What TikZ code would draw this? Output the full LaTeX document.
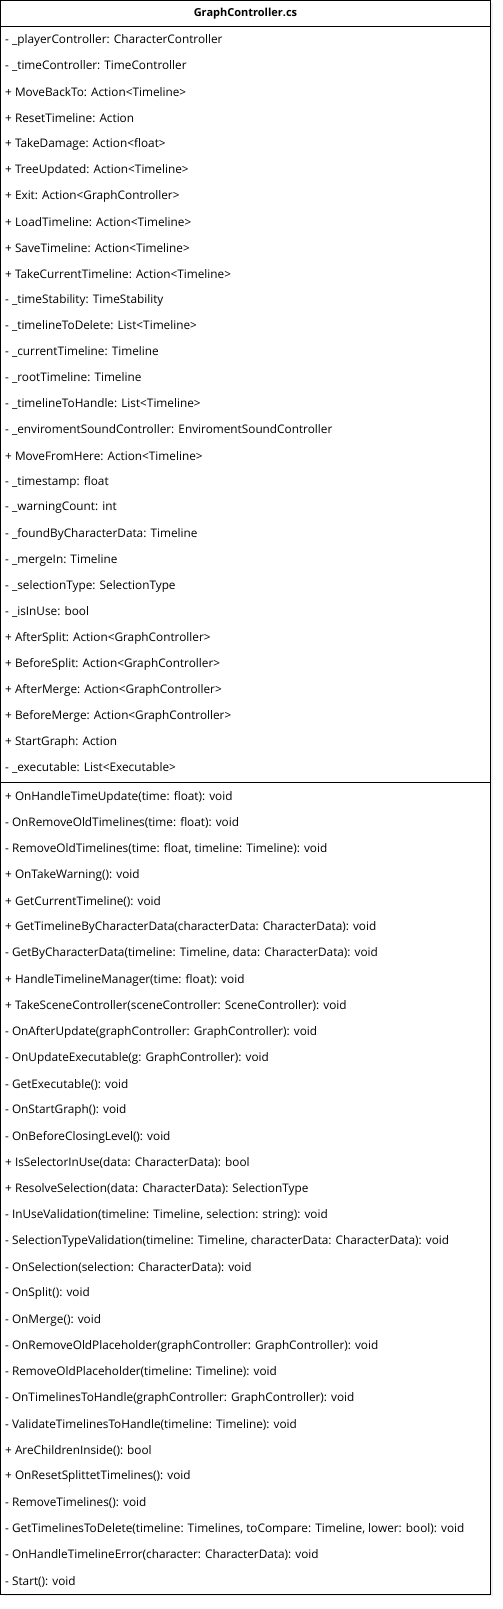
\documentclass[tikz,border=0pt]{standalone}
\usepackage{fontspec}
\setmainfont{Open Sans}
\usepackage{tikz}
\usetikzlibrary{shadows}

\begin{document}
\begin{tikzpicture}
[x=1pt, y=-1pt,
 member/.style={anchor=west, inner sep=2pt, font=\fontsize{11.8}{13}\selectfont},
 classbox/.style={draw, line width=1pt, fill=white, drop shadow={shadow xshift=2pt, shadow yshift=-2pt, opacity=0.12}}];
\useasboundingbox (0, 0) rectangle (503, 1609);
\draw[classbox] (0.5, 0.5) rectangle (490.5, 1594);
\draw[line width=1pt] (0.5, 26) -- (490.5, 26);
\draw[line width=1pt] (0.5, 782) -- (490.5, 782);
\draw(245.5, 14) node[font=\fontsize{11}{13}\selectfont\bfseries] (title) {GraphController.cs};

\foreach \txt [count=\i] in {
  - \_playerController: CharacterController,
  - \_timeController: TimeController,
  + MoveBackTo: Action<Timeline>,
  + ResetTimeline: Action,
  + TakeDamage: Action<float>,
  + TreeUpdated: Action<Timeline>,
  + Exit: Action<GraphController>,
  + LoadTimeline: Action<Timeline>,
  + SaveTimeline: Action<Timeline>,
  + TakeCurrentTimeline: Action<Timeline>,
  - \_timeStability: TimeStability,
  - \_timelineToDelete: List<Timeline>,
  - \_currentTimeline: Timeline,
  - \_rootTimeline: Timeline,
  - \_timelineToHandle: List<Timeline>,
  - \_enviromentSoundController: EnviromentSoundController,
  + MoveFromHere: Action<Timeline>,
  - \_timestamp: float,
  - \_warningCount: int,
  - \_foundByCharacterData: Timeline,
  - \_mergeIn: Timeline,
  - \_selectionType: SelectionType,
  - \_isInUse: bool,
  + AfterSplit: Action<GraphController>,
  + BeforeSplit: Action<GraphController>,
  + AfterMerge: Action<GraphController>,
  + BeforeMerge: Action<GraphController>,
  + StartGraph: Action,
  - \_executable: List<Executable>}
  \draw(3, 40 + 26*\i - 26) node[member] (attr\i) {\txt};

\foreach \txt [count=\i] in {
  + OnHandleTimeUpdate(time: float): void,
  - OnRemoveOldTimelines(time: float): void,
  {- RemoveOldTimelines(time: float, timeline: Timeline): void},
  + OnTakeWarning(): void,
  + GetCurrentTimeline(): void,
  + GetTimelineByCharacterData(characterData: CharacterData): void,
  {- GetByCharacterData(timeline: Timeline, data: CharacterData): void},
  + HandleTimelineManager(time: float): void,
  + TakeSceneController(sceneController: SceneController): void,
  - OnAfterUpdate(graphController: GraphController): void,
  - OnUpdateExecutable(g: GraphController): void,
  - GetExecutable(): void,
  - OnStartGraph(): void,
  - OnBeforeClosingLevel(): void,
  + IsSelectorInUse(data: CharacterData): bool,
  + ResolveSelection(data: CharacterData): SelectionType,
  {- InUseValidation(timeline: Timeline, selection: string): void},
  {- SelectionTypeValidation(timeline: Timeline, characterData: CharacterData): void},
  - OnSelection(selection: CharacterData): void,
  - OnSplit(): void,
  - OnMerge(): void,
  - OnRemoveOldPlaceholder(graphController: GraphController): void,
  - RemoveOldPlaceholder(timeline: Timeline): void,
  - OnTimelinesToHandle(graphController: GraphController): void,
  - ValidateTimelinesToHandle(timeline: Timeline): void,
  + AreChildrenInside(): bool,
  + OnResetSplittetTimelines(): void,
  - RemoveTimelines(): void,
  {- GetTimelinesToDelete(timeline: Timelines, toCompare: Timeline, lower: bool): void},
  - OnHandleTimelineError(character: CharacterData): void,
  - Start(): void}
  \draw(3, 797 + 26.15*\i - 26.15) node[member] (meth\i) {\txt};
\end{tikzpicture}
\end{document}
